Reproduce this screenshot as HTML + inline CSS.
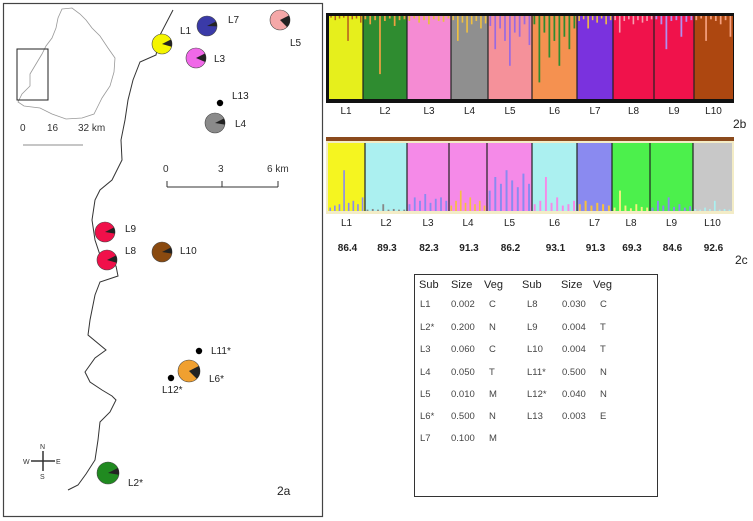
<!DOCTYPE html>
<html><head><meta charset="utf-8"><style>
body{margin:0;background:#fff;}
svg{display:block;font-family:"Liberation Sans",Arial,sans-serif;}
</style></head><body>
<svg id="fig" width="753" height="521" viewBox="0 0 753 521">
<rect x="0" y="0" width="753" height="521" fill="#fff"/>
<!-- Map panel -->
<g>
<rect x="3.5" y="3.5" width="319" height="513" fill="#fff" stroke="#444" stroke-width="1.2"/>
<path d="M62,9 L72,8 L80,14 L86,20 L92,28 L100,36 L108,48 L115,58 L114,72 L110,86 L102,98 L98,106 L94,114 L82,118 L66,119 L52,114 L40,108 L24,106 L18,102 L22,94 L30,86 L30,74 L36,64 L42,54 L46,46 L52,38 L56,28 L58,18 Z" fill="none" stroke="#999" stroke-width="0.8"/>
<rect x="17" y="49" width="31" height="51" fill="none" stroke="#222" stroke-width="1"/>
<g font-size="10" fill="#333">
<text x="20" y="131">0</text><text x="47" y="131">16</text><text x="78" y="131">32 km</text>
<line x1="23" y1="145" x2="83" y2="145" stroke="#666" stroke-width="0.8"/>
</g>
<g font-size="10" fill="#333">
<text x="163" y="172">0</text><text x="218" y="172">3</text><text x="267" y="172">6 km</text>
<line x1="167" y1="187" x2="278" y2="187" stroke="#333" stroke-width="1"/>
<line x1="167" y1="181" x2="167" y2="187" stroke="#333"/><line x1="222" y1="181" x2="222" y2="187" stroke="#333"/><line x1="278" y1="181" x2="278" y2="187" stroke="#333"/>
</g>
<polyline fill="none" stroke="#333" stroke-width="1" points="173,10 160,35 156,55 140,62 133,80 128,100 125,120 121,140 122,160 112,180 100,190 95,200 92,220 95,240 100,255 106,262 116,266 118,276 100,282 95,295 90,320 88,335 106,350 95,358 85,372 90,382 102,390 112,396 116,400 110,412 100,422 98,440 95,460 86,474 78,485 68,490"/>
<g id="pies"></g>
<g font-size="10" fill="#222">
<text x="180" y="34">L1</text><text x="228" y="23">L7</text><text x="290" y="46">L5</text>
<text x="214" y="62">L3</text><text x="232" y="99">L13</text><text x="235" y="127">L4</text>
<text x="125" y="232">L9</text><text x="125" y="254">L8</text><text x="180" y="254">L10</text>
<text x="211" y="354">L11*</text><text x="209" y="382">L6*</text><text x="162" y="393">L12*</text>
<text x="128" y="486">L2*</text>
<text x="277" y="495" font-size="12">2a</text>
</g>
<g font-size="7" fill="#333">
<line x1="43" y1="451" x2="43" y2="471" stroke="#333" stroke-width="1.5"/>
<line x1="31" y1="461" x2="55" y2="461" stroke="#333" stroke-width="1.5"/>
<text x="40" y="449">N</text><text x="40" y="479">S</text><text x="23" y="464">W</text><text x="56" y="464">E</text>
</g>
</g>
<g id="b2"></g>
<g id="c2"></g>
<text x="733" y="128" font-size="12" fill="#222">2b</text>
<text x="735" y="264" font-size="12" fill="#222">2c</text>
<!-- Table -->
<g>
<rect x="414.5" y="274.5" width="243" height="222" fill="#fff" stroke="#333" stroke-width="1"/>
<g font-size="11" fill="#222">
<text x="419" y="288">Sub</text><text x="451" y="288">Size</text><text x="484" y="288">Veg</text>
<text x="522" y="288">Sub</text><text x="561" y="288">Size</text><text x="593" y="288">Veg</text>
</g>
<g font-size="9.5" fill="#444" id="trows"></g>
</g>
</svg>
<script>
const NS='http://www.w3.org/2000/svg';
function mk(t,a,p){const e=document.createElementNS(NS,t);for(const k in a)e.setAttribute(k,a[k]);p.appendChild(e);return e;}
// ---- Structure data ----
const pops=['L1','L2','L3','L4','L5','L6','L7','L8','L9','L10'];
const popWidthB=[34,44,44,37,44,45,36,41,40,39];
const colorsB=['#e6ef1c','#2f8c30','#f58bd3','#8f8f8f','#f5919a','#f59150','#7a32de','#f0124b','#f0124b','#ad4710'];
const minorB=[
 [0.02,0.05,0.03,0.02,0.30,0.04,0.03,0.08],[0.04,0.10,0.05,0.70,0.06,0.03,0.12,0.05,0.04],
 [0.06,0.03,0.08,0.05,0.10,0.04,0.06,0.07,0.03],[0.05,0.30,0.08,0.20,0.10,0.06,0.15,0.09],
 [0.12,0.40,0.15,0.30,0.60,0.20,0.25,0.10,0.35],[0.10,0.80,0.20,0.50,0.30,0.60,0.25,0.40,0.15],
 [0.06,0.04,0.15,0.05,0.08,0.03,0.10,0.05],[0.05,0.20,0.06,0.04,0.10,0.05,0.08,0.06,0.04],
 [0.04,0.10,0.40,0.06,0.05,0.25,0.07,0.05],[0.05,0.03,0.30,0.04,0.06,0.10,0.05,0.25]];
const colorsC=['#f5f520','#abf0f0','#f58ae8','#f58ae8','#f58ae8','#abf0f0','#8a8af0','#4cf04c','#4cf04c','#c8c8c8'];
const popWidthC=[37,42,42,38,45,45,35,38,43,39];
const minorC=[[0.05,0.08,0.10,0.60,0.12,0.15,0.10,0.20],[0.02,0.03,0.02,0.10,0.02,0.03,0.02,0.02],
 [0.10,0.20,0.15,0.25,0.12,0.18,0.20,0.15],[0.08,0.15,0.30,0.12,0.20,0.10,0.15,0.08],
 [0.30,0.50,0.40,0.60,0.45,0.35,0.55,0.40],[0.10,0.15,0.50,0.12,0.20,0.08,0.10,0.15],
 [0.10,0.15,0.08,0.12,0.10,0.08],[0.05,0.30,0.08,0.04,0.10,0.06,0.05],
 [0.05,0.15,0.08,0.20,0.06,0.10,0.05,0.07],[0.03,0.02,0.05,0.03,0.15,0.02,0.03,0.02]];
const minorColC=['#8a8af0','#888','#8a8af0','#f5c040','#8a8af0','#f58ae8','#f5c040','#f5f080','#8a8af0','#abf0f0'];
const accuracy=['86.4','89.3','82.3','91.3','86.2','93.1','91.3','69.3','84.6','92.6'];

function drawStruct(g,x0,y0,h,widths,cols,minors,minCols,dividers,minorAtBottom){
  let x=x0;
  pops.forEach((p,i)=>{
    const w=widths[i], m=minors[i], n=m.length, cw=w/n;
    const r=mk('rect',{x:x,y:y0,width:w,height:h,fill:cols[i]},g);
    
    
    m.forEach((v,j)=>{
      const mh=v*h;
      const s=mk('rect',{x:x+j*cw+cw*0.3,y:minorAtBottom?y0+h-mh:y0,width:Math.max(1,cw*0.35),height:mh,fill:minCols[i]},g);
      
      
    });
    if(dividers&&i>0){mk('line',{x1:x,y1:y0,x2:x,y2:y0+h,stroke:'#222','stroke-width':1.2},g);}
    const t=mk('text',{x:x+w/2,y:0,'font-size':10,'text-anchor':'middle',fill:'#222'},g);
    t.textContent=p; t.dataset.cx=x+w/2;
    
    
    t.classList.add('pl');
    x+=w;
  });
}
const b2=document.getElementById('b2');
mk('rect',{x:326,y:13,width:408,height:90,fill:'#111'},b2);
const minColB=['#b45a20','#f0a040','#e8c040','#f0c040','#9a6ae0','#2f8c30','#f0c040','#f5a0b0','#b090f0','#f5a080'];
drawStruct(b2,329,16,83,popWidthB,colorsB,minorB,minColB,true,false);
b2.querySelectorAll('.pl').forEach(t=>t.setAttribute('y',114));
const c2=document.getElementById('c2');
mk('rect',{x:326,y:137,width:408,height:4,fill:'#8b4a1c'},c2);
mk('rect',{x:326,y:141,width:408,height:73,fill:'#f3ecc6'},c2);
drawStruct(c2,328,143,68,popWidthC,colorsC,minorC,minorColC,true,true);
c2.querySelectorAll('.pl').forEach(t=>t.setAttribute('y',226));
let xx=329;
pops.forEach((p,i)=>{const t=mk('text',{x:xx+popWidthC[i]/2,y:251,'font-size':10,'font-weight':'bold','text-anchor':'middle',fill:'#222'},c2);
 t.textContent=accuracy[i];
 
 
 xx+=popWidthC[i];});
// ---- Pies ----
const pieSites=['L1','L7','L5','L3','L4','L9','L8','L10','L6','L2'];
const pieCx=[162,207,280,196,215,105,107,162,189,108];
const pieCy=[44,26,20,58,123,232,260,252,371,473];
const pieR=[10,10,10,10,10,10,10,10,11,11];
const pieCol=['#f5f500','#3a3aa8','#f5a8a8','#f068e8','#8a8a8a','#f0104a','#f0104a','#8a4a10','#f0a030','#208a20'];
const pieMinor=[0.12,0.08,0.2,0.14,0.1,0.1,0.12,0.1,0.2,0.1];
const pg=document.getElementById('pies');
pieSites.forEach((s,i)=>{
  const cx=pieCx[i],cy=pieCy[i],r=pieR[i];
  const c=mk('circle',{cx:cx,cy:cy,r:r,fill:pieCol[i],stroke:'#444','stroke-width':0.6},pg);
  
  
  const a0=-Math.PI*0.15,a1=a0+pieMinor[i]*2*Math.PI;
  const p=mk('path',{d:`M${cx},${cy} L${cx+r*Math.cos(a0)},${cy+r*Math.sin(a0)} A${r},${r} 0 0 1 ${cx+r*Math.cos(a1)},${cy+r*Math.sin(a1)} Z`,fill:'#222'},pg);
  
  
});
const dotX=[220,199,171],dotY=[103,351,378];
dotX.forEach((x,i)=>{const d=mk('circle',{cx:x,cy:dotY[i],r:3.2,fill:'#000'},pg);
 
 });
// ---- Table ----
const tSub=['L1','L2*','L3','L4','L5','L6*','L7'];
const tSize=['0.002','0.200','0.060','0.050','0.010','0.500','0.100'];
const tVeg=['C','N','C','T','M','N','M'];
const tSub2=['L8','L9','L10','L11*','L12*','L13'];
const tSize2=['0.030','0.004','0.004','0.500','0.040','0.003'];
const tVeg2=['C','T','T','N','N','E'];
const rowY=[307,330,352,375,397,419,441];
const tr=document.getElementById('trows');
function cell(x,y,s){const t=mk('text',{x:x,y:y},tr);t.textContent=s;
 
 }
tSub.forEach((s,i)=>{cell(420,rowY[i],s);cell(451,rowY[i],tSize[i]);cell(489,rowY[i],tVeg[i]);});
tSub2.forEach((s,i)=>{cell(527,rowY[i],s);cell(562,rowY[i],tSize2[i]);cell(600,rowY[i],tVeg2[i]);});
</script>
</body></html>
